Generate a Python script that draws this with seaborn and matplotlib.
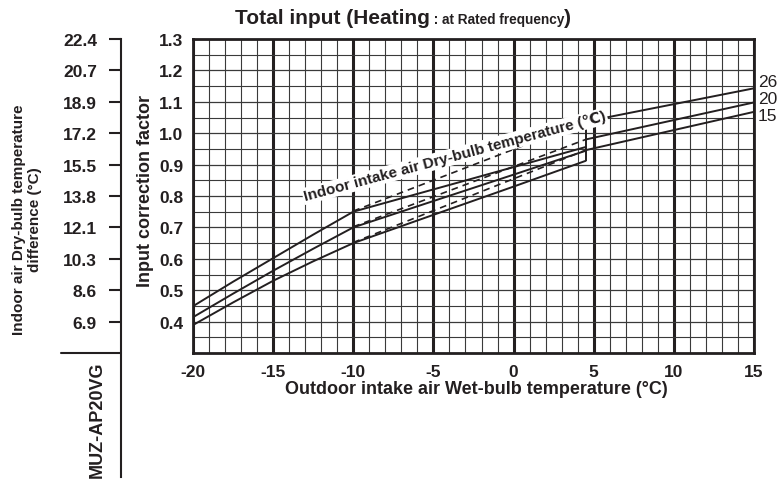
import matplotlib
matplotlib.use('Agg')
import matplotlib.pyplot as plt
import matplotlib.transforms as transforms
from matplotlib.lines import Line2D
import seaborn as sns

# curve labels (indoor intake air dry-bulb temperature, degC)
indoor_temps = ['26', '20', '15']
label_y = [1.166, 1.109, 1.055]

# left solid curves, outdoor WB -20 .. 4.5
x_low = [-20, -17.5, -15, -12.5, -10, -5, 0, 4.5]
low_26 = [0.449, 0.527, 0.602, 0.677, 0.750, 0.821, 0.892, 0.956]
low_20 = [0.414, 0.489, 0.562, 0.632, 0.700, 0.784, 0.868, 0.944]
low_15 = [0.389, 0.461, 0.530, 0.592, 0.650, 0.740, 0.830, 0.912]

# dashed lines -10 .. 4.5
x_dash = [-10, 4.5]
dash_26 = [0.752, 1.037]
dash_20 = [0.702, 0.980]
dash_15 = [0.652, 0.946]

# right solid curves 4.5 .. 15
x_high = [4.5, 15]
high_26 = [1.037, 1.143]
high_20 = [0.980, 1.098]
high_15 = [0.946, 1.068]

# axis ticks
x_ticks = [-20, -15, -10, -5, 0, 5, 10, 15]
y_ticks = [0.4, 0.5, 0.6, 0.7, 0.8, 0.9, 1.0, 1.1, 1.2, 1.3]
y_ticklabels = ['0.4', '0.5', '0.6', '0.7', '0.8', '0.9', '1.0', '1.1', '1.2', '1.3']
diff_ticklabels = ['6.9', '8.6', '10.3', '12.1', '13.8', '15.5', '17.2', '18.9', '20.7', '22.4']

sns.set_style('white')
ink = '#231f20'
plt.rcParams['font.family'] = ['Liberation Sans', 'DejaVu Sans']
plt.rcParams['axes.unicode_minus'] = False
plt.rcParams['text.color'] = ink
plt.rcParams['axes.labelcolor'] = ink
plt.rcParams['xtick.color'] = ink
plt.rcParams['ytick.color'] = ink

W, H = 781, 481
fig = plt.figure(figsize=(W / 100, H / 100), dpi=100)
ax = fig.add_axes([193 / W, 1 - 354 / H, 561 / W, 314 / H])

for lo, da, hi in zip([low_26, low_20, low_15], [dash_26, dash_20, dash_15], [high_26, high_20, high_15]):
    sns.lineplot(x=x_low, y=lo, color=ink, lw=1.4, ax=ax)
    sns.lineplot(x=x_dash, y=da, color=ink, lw=1.2, linestyle=(0, (4, 3)), ax=ax)
    sns.lineplot(x=x_high, y=hi, color=ink, lw=1.4, ax=ax)
ax.vlines(x_high[0], low_15[-1], high_26[0], color=ink, lw=1.4)

ax.set_xlim(-20, 15)
ax.set_ylim(0.3, 1.3)
ax.set_xticks(x_ticks)
ax.set_xticks(range(-20, 16), minor=True)
ax.set_yticks(y_ticks)
ax.set_yticklabels(y_ticklabels)
ax.set_yticks([0.3 + 0.05 * i for i in range(21)], minor=True)
ax.grid(which='minor', color='#3a3a3a', lw=0.8)
ax.grid(axis='y', which='major', color='#3a3a3a', lw=0.9)
ax.grid(axis='x', which='major', color=ink, lw=2.2)
ax.set_axisbelow(True)
ax.tick_params(which='both', length=0)
ax.tick_params(axis='x', pad=8, labelsize=12.5)
ax.tick_params(axis='y', pad=7, labelsize=12.5)
for lab in ax.get_xticklabels() + ax.get_yticklabels():
    lab.set_fontweight('bold')
for sp in ax.spines.values():
    sp.set_visible(True)
    sp.set_color(ink)
    sp.set_linewidth(2)

ax.set_xlabel('Outdoor intake air Wet-bulb temperature (°C)', fontsize=13, fontweight='bold')
ax.xaxis.set_label_coords(0.505, -0.085)
ax.set_ylabel('Input correction factor', fontsize=13, fontweight='bold')
ax.yaxis.set_label_coords(-0.07, 0.52)

ax.text(-3.66, 0.927, 'Indoor intake air Dry-bulb temperature (℃)', rotation=15,
        rotation_mode='anchor', ha='center', va='center', fontsize=11, fontweight='bold',
        bbox=dict(facecolor='white', edgecolor='none', pad=1), zorder=4)

for t, yl in zip(indoor_temps, label_y):
    ax.text(15.25, yl, t, ha='left', va='center', fontsize=12.5, clip_on=False)

# secondary (temperature difference) scale
bottom_px = 478
ax2 = fig.add_axes([120.5 / W, 1 - bottom_px / H, 0.0005, (bottom_px - 40) / H])
ax2.set_ylim(0.3 - (bottom_px - 354) / 314, 1.3)
ax2.set_yticks(y_ticks)
ax2.set_yticklabels(diff_ticklabels, fontsize=12.5, fontweight='bold')
ax2.set_xticks([])
for k in ['top', 'right', 'bottom']:
    ax2.spines[k].set_visible(False)
ax2.spines['left'].set_linewidth(1.5)
ax2.spines['left'].set_color(ink)
ax2.tick_params(axis='y', direction='out', length=9, width=1.5, pad=8, left=True)
fig.add_artist(Line2D([61 / W, 121 / W], [1 - 354 / H] * 2, color=ink, lw=1.5))

fig.text(27 / W, 1 - 220 / H, 'Indoor air Dry-bulb temperature\ndifference (°C)', rotation=90,
         ha='center', va='center', multialignment='center', fontsize=11, fontweight='bold',
         linespacing=1.15)
fig.text(97 / W, 1 - 420 / H, 'MUZ-AP20VG', rotation=90, ha='center', va='center',
         fontsize=13, fontweight='bold')

# title with mixed font sizes
fig.canvas.draw()
renderer = fig.canvas.get_renderer()
tr = fig.transFigure
for s, size in [('Total input (Heating', 15), (' : at Rated frequency', 9.8), (')', 15)]:
    txt = fig.text(235 / W, 1 - 24 / H, s, fontsize=size, fontweight='bold', va='baseline', transform=tr)
    txt.draw(renderer)
    ex = txt.get_window_extent(renderer)
    tr = transforms.offset_copy(txt.get_transform(), x=ex.width, units='dots')

fig.savefig('out.png', dpi=100)
